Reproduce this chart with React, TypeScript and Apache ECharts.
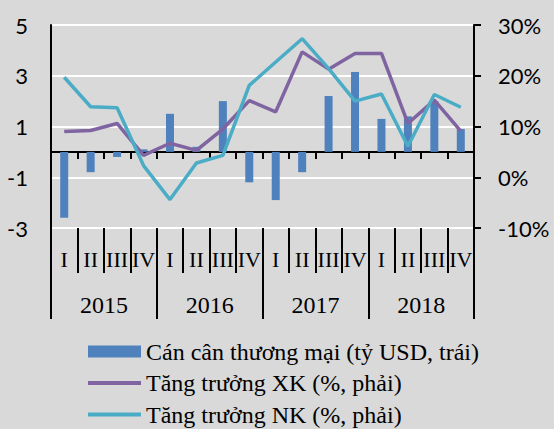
import React, { useEffect, useRef } from "react";
import * as echarts from "echarts";

const quarters = ["I", "II", "III", "IV", "I", "II", "III", "IV", "I", "II", "III", "IV", "I", "II", "III", "IV"];
const years = ["2015", "2016", "2017", "2018"];
const balance = [-2.6, -0.8, -0.2, 0.1, 1.5, 0.2, 2.0, -1.2, -1.9, -0.8, 2.2, 3.15, 1.3, 1.4, 2.0, 0.9];
const exportGrowth = [9.0, 9.2, 10.6, 4.3, 6.7, 5.3, 9.5, 15.1, 12.9, 24.7, 21.3, 24.4, 24.4, 10.6, 15.2, 9.1];
const importGrowth = [19.7, 13.9, 13.7, 2.3, -4.4, 2.8, 4.3, 18.1, 22.7, 27.3, 21.4, 15.0, 16.4, 6.1, 16.3, 13.8];
const seriesNames = ["Cán cân thương mại (tỷ USD, trái)", "Tăng trưởng XK (%, phải)", "Tăng trưởng NK (%, phải)"];

const SANS = "Lato";
const SERIF = "Liberation Serif";

export default function App() {
  const ref = useRef<HTMLDivElement>(null);
  useEffect(() => {
    document.body.style.margin = "0";
    const chart = echarts.init(ref.current!, null, { renderer: "svg" });
    const black = "#000";
    chart.setOption({
      animation: false,
      backgroundColor: "#d9d9d9",
      grid: { left: 51, right: 80, top: 25, bottom: 201 },
      legend: {
        orient: "vertical",
        left: 86,
        top: 338,
        height: 130,
        padding: 0,
        itemWidth: 53,
        itemHeight: 12,
        itemGap: 4.5,
        textStyle: { fontFamily: SERIF, fontSize: 24, color: black, lineHeight: 27 },
        data: [
          { name: seriesNames[0], icon: "rect" },
          { name: seriesNames[1], lineStyle: { width: 4 }, itemStyle: { opacity: 0 } },
          { name: seriesNames[2], lineStyle: { width: 4 }, itemStyle: { opacity: 0 } },
        ],
      },
      xAxis: [
        {
          type: "category",
          data: quarters,
          position: "bottom",
          axisLine: { onZero: true, onZeroAxisIndex: 0, lineStyle: { color: black, width: 2 } },
          axisTick: { show: true, interval: 0, length: 7, lineStyle: { color: black, width: 2 } },
          axisLabel: { show: false },
          splitLine: { show: false },
        },
        {
          type: "category",
          data: quarters,
          position: "bottom",
          axisLine: { show: false, onZero: false },
          axisTick: { show: true, interval: 0, length: 45, lineStyle: { color: black, width: 2 } },
          axisLabel: { show: true, interval: 0, margin: 20, fontFamily: SERIF, fontSize: 22, color: black },
          splitLine: { show: false },
        },
        {
          type: "category",
          data: years,
          position: "bottom",
          axisLine: { show: false, onZero: false },
          axisTick: { show: true, interval: 0, length: 91, lineStyle: { color: black, width: 2 } },
          axisLabel: { show: true, interval: 0, margin: 65, fontFamily: SERIF, fontSize: 24, color: black },
          splitLine: { show: false },
        },
      ],
      yAxis: [
        {
          type: "value",
          min: -3,
          max: 5,
          interval: 2,
          position: "left",
          axisLine: { show: true, lineStyle: { color: black, width: 2 } },
          axisTick: { show: false },
          axisLabel: { margin: 23, fontFamily: SANS, fontSize: 22, color: black },
          splitLine: { show: true, lineStyle: { color: "#ffffff", width: 2 } },
        },
        {
          type: "value",
          min: -10,
          max: 30,
          interval: 10,
          position: "right",
          axisLine: { show: true, lineStyle: { color: black, width: 2 } },
          axisTick: { show: true, length: 7, lineStyle: { color: black, width: 2 } },
          axisLabel: { margin: 24, fontFamily: SANS, fontSize: 22, color: black, formatter: "{value}%" },
          splitLine: { show: false },
        },
      ],
      series: [
        {
          name: seriesNames[0],
          type: "bar",
          data: balance,
          xAxisIndex: 0,
          yAxisIndex: 0,
          barWidth: 8,
          itemStyle: { color: "#4f81bd" },
        },
        {
          name: seriesNames[1],
          type: "line",
          data: exportGrowth,
          xAxisIndex: 0,
          yAxisIndex: 1,
          symbol: "none",
          lineStyle: { color: "#8064a2", width: 3.5 },
          itemStyle: { color: "#8064a2" },
        },
        {
          name: seriesNames[2],
          type: "line",
          data: importGrowth,
          xAxisIndex: 0,
          yAxisIndex: 1,
          symbol: "none",
          lineStyle: { color: "#4bacc6", width: 3.5 },
          itemStyle: { color: "#4bacc6" },
        },
      ],
    });
    return () => chart.dispose();
  }, []);
  return <div ref={ref} style={{ width: 554, height: 429 }} />;
}
